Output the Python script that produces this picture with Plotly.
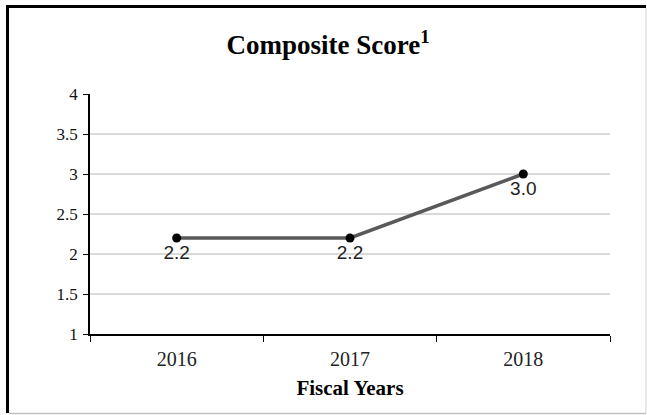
import plotly.graph_objects as go

years = ["2016", "2017", "2018"]
scores = [2.2, 2.2, 3.0]
score_labels = ["2.2", "2.2", "3.0"]
y_ticks = [1, 1.5, 2, 2.5, 3, 3.5, 4]
y_tick_text = ["1", "1.5", "2", "2.5", "3", "3.5", "4"]

W, H = 647, 415
L, R, T, B = 90, 37, 94, 81
pw, ph = W - L - R, H - T - B

def px_x(px):
    return (px - L) / pw

def px_y(py):
    return (H - B - py) / ph

serif = "Liberation Serif, Times New Roman, serif"

fig = go.Figure()
fig.add_trace(go.Scatter(
    x=years, y=scores, mode="lines+markers+text",
    line=dict(color="#595959", width=3.5),
    marker=dict(color="black", size=9),
    text=score_labels, textposition="bottom center",
    textfont=dict(family="Liberation Sans, Arial, sans-serif", size=19, color="#222222"),
    cliponaxis=False, showlegend=False,
))

shapes = [
    dict(type="line", xref="paper", yref="paper", x0=px_x(6), x1=px_x(646), y0=px_y(6.5), y1=px_y(6.5),
         line=dict(color="black", width=3)),
    dict(type="line", xref="paper", yref="paper", x0=px_x(7.5), x1=px_x(7.5), y0=px_y(5), y1=px_y(413),
         line=dict(color="black", width=3)),
    dict(type="line", xref="paper", yref="paper", x0=px_x(646), x1=px_x(646), y0=px_y(8), y1=px_y(413),
         line=dict(color="#d0d0d0", width=1)),
    dict(type="line", xref="paper", yref="paper", x0=px_x(9), x1=px_x(646), y0=px_y(413.5), y1=px_y(413.5),
         line=dict(color="#c0c0c0", width=1.5)),
]

fig.update_layout(
    width=W, height=H,
    margin=dict(l=L, r=R, t=T, b=B),
    paper_bgcolor="white", plot_bgcolor="white",
    font=dict(family=serif, size=14, color="black"),
    title=dict(text="<b>Composite Score<sup>1</sup></b>", x=328 / W, xanchor="center",
               y=1 - 45 / H, yanchor="middle", yref="container",
               font=dict(family=serif, size=27, color="black")),
    shapes=shapes,
    xaxis=dict(
        type="category", tickson="boundaries", ticks="outside", ticklen=6, tickcolor="black",
        showline=True, linecolor="black", linewidth=1.5, showgrid=False,
        tickfont=dict(family=serif, size=20, color="#222222"),
        ticklabelstandoff=6,
        title=dict(text="<b>Fiscal Years</b>", font=dict(family=serif, size=21, color="black"), standoff=12),
        range=[-0.5, 2.5],
    ),
    yaxis=dict(
        range=[1, 4], tickvals=y_ticks, ticktext=y_tick_text,
        ticks="outside", ticklen=5, tickcolor="black",
        showline=True, linecolor="black", linewidth=1.5,
        showgrid=True, gridcolor="#d9d9d9", gridwidth=1.5, zeroline=False,
        tickfont=dict(family=serif, size=17, color="#111111"),
        ticklabelstandoff=2,
    ),
)

fig.write_html("out.html", config={"displayModeBar": False},
               post_script="document.body.style.margin='0';document.body.style.overflow='hidden';")
